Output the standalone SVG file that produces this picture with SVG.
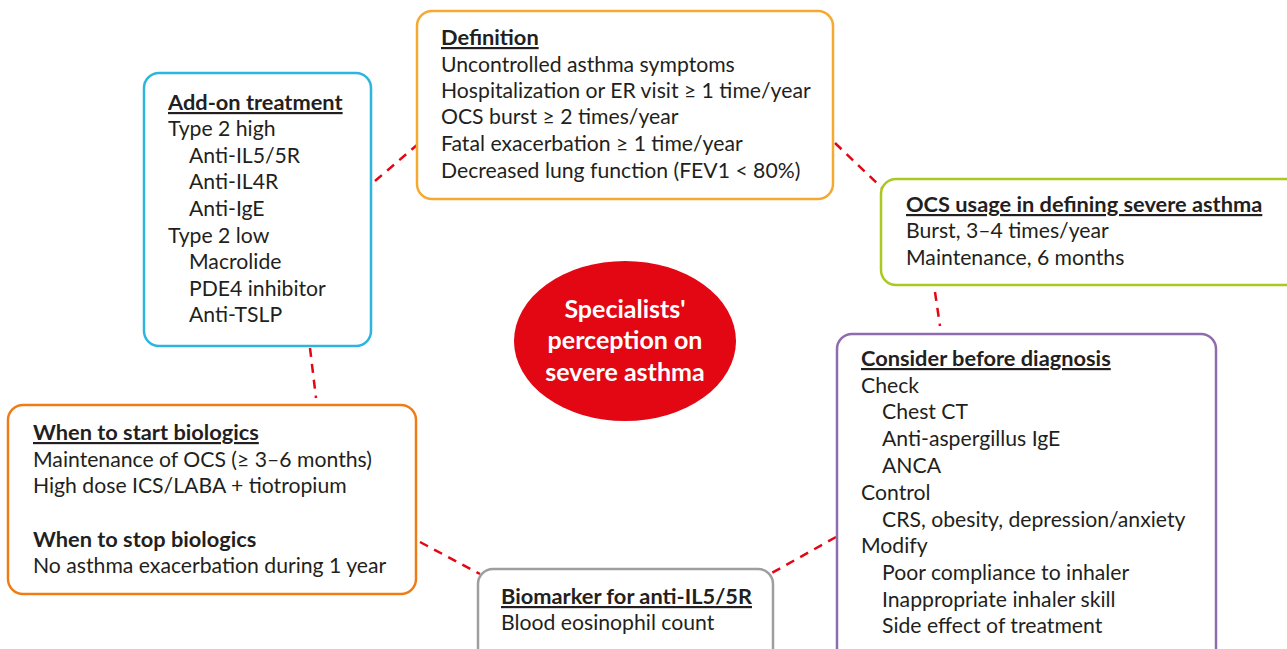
<svg xmlns="http://www.w3.org/2000/svg" width="1287" height="649" viewBox="0 0 1287 649">
<style>
.box{fill:#fff;stroke-width:2.5}
.t{font-family:Lato,"Liberation Sans",sans-serif;font-size:21.2px;fill:#231f20}
.h{font-weight:700;font-size:21.8px;text-decoration:underline}
.b{font-weight:700;font-size:21.8px}
.c{font-family:Lato,"Liberation Sans",sans-serif;font-size:25px;font-weight:700;fill:#fff;text-anchor:middle}
.con{stroke:#e30613;stroke-width:2.5;stroke-dasharray:9 7;fill:none}
</style>
<rect width="1287" height="649" fill="#fff"/>
<g id="connectors">
<line class="con" x1="375" y1="181" x2="417" y2="145"/>
<line class="con" x1="835" y1="143" x2="882" y2="188"/>
<line class="con" x1="935" y1="292" x2="940" y2="326"/>
<line class="con" x1="836" y1="537" x2="770" y2="574"/>
<line class="con" x1="420" y1="542" x2="480" y2="574"/>
<line class="con" x1="310" y1="348" x2="316" y2="398"/>
</g>
<g id="definition">
<rect class="box" x="417" y="11" width="416" height="188" rx="15" stroke="#f6a930"/>
<text class="t h" x="441" y="45">Definition</text>
<text class="t" x="441" y="72">Uncontrolled asthma symptoms</text>
<text class="t" x="441" y="98">Hospitalization or ER visit ≥ 1 time/year</text>
<text class="t" x="441" y="124">OCS burst ≥ 2 times/year</text>
<text class="t" x="441" y="151">Fatal exacerbation ≥ 1 time/year</text>
<text class="t" x="441" y="178">Decreased lung function (FEV1 &lt; 80%)</text>
</g>
<g id="addon">
<rect class="box" x="144" y="73" width="227" height="273" rx="15" stroke="#2db5dd"/>
<text class="t h" x="168" y="110">Add-on treatment</text>
<text class="t" x="168" y="136">Type 2 high</text>
<text class="t" x="189" y="163">Anti-IL5/5R</text>
<text class="t" x="189" y="189">Anti-IL4R</text>
<text class="t" x="189" y="216">Anti-IgE</text>
<text class="t" x="168" y="243">Type 2 low</text>
<text class="t" x="189" y="269">Macrolide</text>
<text class="t" x="189" y="296">PDE4 inhibitor</text>
<text class="t" x="189" y="322">Anti-TSLP</text>
</g>
<g id="ocs">
<rect class="box" x="881" y="179" width="420" height="106" rx="15" stroke="#a9c820"/>
<text class="t h" x="906" y="212">OCS usage in defining severe asthma</text>
<text class="t" x="906" y="238">Burst, 3–4 times/year</text>
<text class="t" x="906" y="265">Maintenance, 6 months</text>
</g>
<g id="consider">
<rect class="box" x="837" y="334" width="379" height="330" rx="15" stroke="#8e6cae"/>
<text class="t h" x="861" y="366">Consider before diagnosis</text>
<text class="t" x="861" y="393">Check</text>
<text class="t" x="882" y="419">Chest CT</text>
<text class="t" x="882" y="446">Anti-aspergillus IgE</text>
<text class="t" x="882" y="473">ANCA</text>
<text class="t" x="861" y="500">Control</text>
<text class="t" x="882" y="527">CRS, obesity, depression/anxiety</text>
<text class="t" x="861" y="553">Modify</text>
<text class="t" x="882" y="580">Poor compliance to inhaler</text>
<text class="t" x="882" y="607">Inappropriate inhaler skill</text>
<text class="t" x="882" y="633">Side effect of treatment</text>
</g>
<g id="biologics">
<rect class="box" x="8" y="405" width="408" height="189" rx="15" stroke="#ef7d15"/>
<text class="t h" x="33" y="440">When to start biologics</text>
<text class="t" x="33" y="467">Maintenance of OCS (≥ 3–6 months)</text>
<text class="t" x="33" y="493">High dose ICS/LABA + tiotropium</text>
<text class="t b" x="33" y="547">When to stop biologics</text>
<text class="t" x="33" y="573">No asthma exacerbation during 1 year</text>
</g>
<g id="biomarker">
<rect class="box" x="478" y="569" width="295" height="100" rx="15" stroke="#9e9e9e"/>
<text class="t h" x="501" y="604">Biomarker for anti-IL5/5R</text>
<text class="t" x="501" y="630">Blood eosinophil count</text>
</g>
<g id="center">
<ellipse cx="625" cy="341" rx="111" ry="80" fill="#e30613"/>
<text class="c" x="625" y="318">Specialists'</text>
<text class="c" x="625" y="349">perception on</text>
<text class="c" x="625" y="381">severe asthma</text>
</g>
</svg>
